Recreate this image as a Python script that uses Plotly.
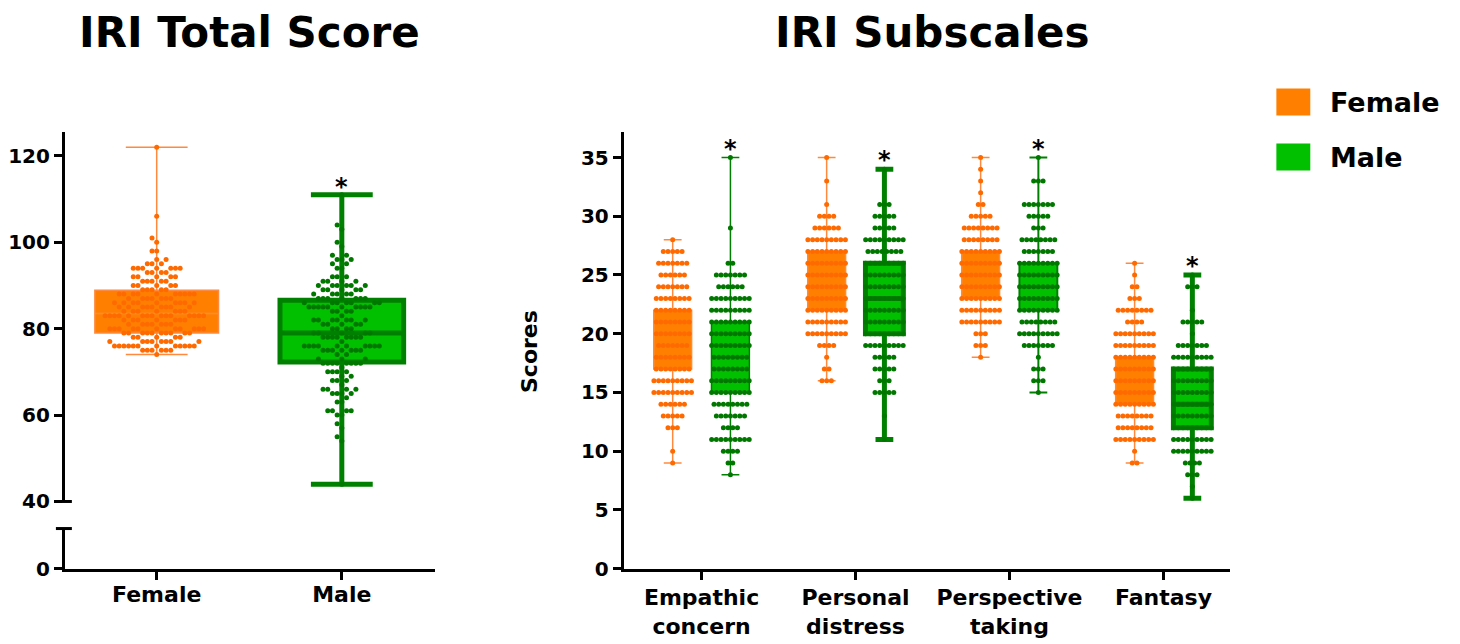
import plotly.graph_objects as go

# page = figure + 8px body margin; the photo compresses the page height slightly,
# so vertical page positions are pre-scaled by KY.
PAGE_M = 8
KY = 644 / 658
W = 1460 - 2 * PAGE_M
H = 658 - 2 * PAGE_M

# ---------------- data ----------------
# IRI total score: box statistics
total_groups = ["Female", "Male"]
total_min = [74, 44]
total_q1 = [79.0, 72.3]
total_med = [83.5, 79.0]
total_q3 = [88.9, 86.6]
total_max = [122, 111]

# IRI total score: individual scores (value, number of participants)
female_total_vals = [122, 106, 101, 100, 98, 96, 95, 94, 93, 92, 91, 90, 89, 88, 87, 86, 85,
                     84, 83, 82, 81, 80, 79, 78, 77, 76, 75, 74]
female_total_cnts = [1, 1, 1, 1, 2, 2, 3, 7, 4, 5, 5, 5, 5, 10, 7, 9, 9,
                     7, 15, 7, 7, 11, 10, 5, 8, 12, 6, 1]
male_total_vals = [111, 104, 103, 100, 99, 97, 96, 95, 94, 92, 91, 90, 89, 88, 87, 86, 85, 84,
                   83, 82, 81, 80, 79, 78, 77, 76, 75, 74, 73, 72, 71, 70, 69, 68, 67, 66,
                   65, 64, 63, 61, 60, 58, 57, 55, 54, 44]
male_total_cnts = [1, 1, 1, 1, 1, 2, 3, 2, 2, 3, 4, 6, 5, 5, 7, 7, 10, 4,
                   1, 7, 5, 4, 5, 8, 1, 10, 7, 2, 3, 8, 1, 4, 2, 3, 1, 4,
                   4, 1, 2, 4, 2, 1, 1, 1, 1, 1]

# IRI subscales
subscales = ["Empathic<br>concern", "Personal<br>distress", "Perspective<br>taking", "Fantasy"]
sub_f_min = [9, 16, 18, 9]
sub_f_q1 = [17, 22, 23, 14]
sub_f_med = [20, 24, 25, 16]
sub_f_q3 = [22, 27, 27, 18]
sub_f_max = [28, 35, 35, 26]
sub_m_min = [8, 11, 15, 6]
sub_m_q1 = [15, 20, 22, 12]
sub_m_med = [18, 23, 24, 14]
sub_m_q3 = [21, 26, 26, 17]
sub_m_max = [35, 34, 35, 25]

ec_f_vals = [28, 27, 26, 25, 24, 23, 22, 21, 20, 19, 18, 17, 16, 15, 14, 13, 12, 10, 9]
ec_f_cnts = [1, 5, 7, 6, 7, 8, 8, 8, 8, 7, 8, 8, 9, 9, 6, 5, 3, 1, 1]
ec_m_vals = [35, 29, 26, 25, 24, 23, 22, 21, 20, 19, 18, 17, 16, 15, 14, 13, 12, 11, 10, 9, 8]
ec_m_cnts = [1, 1, 2, 7, 6, 9, 9, 9, 9, 9, 8, 8, 9, 9, 8, 7, 4, 9, 4, 2, 1]
pd_f_vals = [35, 33, 31, 30, 29, 28, 27, 26, 25, 24, 23, 22, 21, 20, 19, 18, 17, 16]
pd_f_cnts = [1, 1, 1, 4, 6, 9, 9, 9, 9, 9, 9, 9, 9, 9, 4, 1, 2, 3]
pd_m_vals = [34, 31, 30, 29, 28, 27, 26, 25, 24, 23, 22, 21, 20, 19, 18, 17, 16, 15, 13, 11]
pd_m_cnts = [1, 3, 5, 5, 9, 8, 9, 9, 9, 9, 9, 9, 9, 9, 5, 5, 3, 5, 1, 1]
pt_f_vals = [35, 34, 33, 32, 31, 30, 29, 28, 27, 26, 25, 24, 23, 22, 21, 20, 19, 18]
pt_f_cnts = [1, 1, 1, 1, 2, 5, 8, 8, 9, 9, 9, 9, 9, 9, 9, 3, 3, 1]
pt_m_vals = [35, 33, 31, 30, 29, 28, 27, 26, 25, 24, 23, 22, 21, 20, 19, 18, 17, 16, 15]
pt_m_cnts = [1, 3, 7, 5, 3, 8, 7, 9, 9, 9, 9, 9, 8, 9, 7, 1, 3, 3, 1]
fs_f_vals = [26, 25, 24, 23, 22, 21, 20, 19, 18, 17, 16, 15, 14, 13, 12, 11, 10, 9]
fs_f_cnts = [1, 1, 2, 3, 8, 4, 9, 9, 9, 9, 9, 9, 9, 8, 8, 9, 1, 2]
fs_m_vals = [25, 24, 22, 21, 20, 19, 18, 17, 16, 15, 14, 13, 12, 11, 10, 9, 8, 7, 6]
fs_m_cnts = [1, 3, 1, 5, 1, 7, 9, 9, 9, 9, 9, 9, 9, 9, 9, 4, 3, 1, 1]

sub_f_points = [(ec_f_vals, ec_f_cnts), (pd_f_vals, pd_f_cnts), (pt_f_vals, pt_f_cnts), (fs_f_vals, fs_f_cnts)]
sub_m_points = [(ec_m_vals, ec_m_cnts), (pd_m_vals, pd_m_cnts), (pt_m_vals, pt_m_cnts), (fs_m_vals, fs_m_cnts)]

# ---------------- styles ----------------
F_FILL, F_LINE, F_DOT = "#FF8000", "#FF8A3D", "#FF6A00"
M_FILL, M_LINE, M_DOT = "#00C000", "#008000", "#007800"
BOLD = "DejaVu Sans"
sub_f_lw = [1.5, 1.5, 1.5, 1.5]
sub_m_lw = [1.5, 5, 2, 5]

# pixel geometry of the panels (target picture pixels)
L_X0, L_X1 = 62, 433
L_YU0, L_YU1 = 132, 500
L_YL0, L_YL1 = 527, 567
R_X0, R_X1 = 622, 1230
R_Y0, R_Y1 = 132, 567


def fx(px):
    return (px - PAGE_M) / W


def fy(py):
    return 1 - (py / KY - PAGE_M) / H


L_XRANGE = [-0.496, 1.504]
L_YRANGE = [40, 125.4]
R_XRANGE = [0.4945, 4.435]
R_YRANGE = [0, 37.13]
OFF = 0.1875

PITCH = 4.7  # px between neighbouring dots


def px_per_unit(rng, p0, p1):
    return (p1 - p0) / (rng[1] - rng[0])


LX_PPU = px_per_unit(L_XRANGE, L_X0, L_X1)
LY_PPU = px_per_unit(L_YRANGE, L_YU0, L_YU1)
RX_PPU = px_per_unit(R_XRANGE, R_X0, R_X1)


def swarm(vals, cnts, center, x_ppu, y_ppu):
    """Deterministic beeswarm: dots closer than one pitch vertically may not share columns."""
    half = PITCH / 2.0
    cands = [0.0]
    for k in range(1, 400):
        cands += [-k * half, k * half]
    placed = []
    xs, ys = [], []
    for v, n in sorted(zip(vals, cnts)):
        for _ in range(n):
            for c in cands:
                ok = True
                for pv, pc in placed:
                    if abs(pv - v) * y_ppu < PITCH - 1e-6 and abs(pc - c) < PITCH - 1e-6:
                        ok = False
                        break
                if ok:
                    placed.append((v, c))
                    xs.append(center + c / x_ppu)
                    ys.append(v)
                    break
    return xs, ys


def rows(vals, cnts, center, x_ppu):
    xs, ys = [], []
    for v, n in zip(vals, cnts):
        for i in range(n):
            xs.append(center + (i - (n - 1) / 2.0) * PITCH / x_ppu)
            ys.append(v)
    return xs, ys


fig = go.Figure()

# ---------------- left panel ----------------
for i, (fill, line, lw, dot, vals, cnts) in enumerate([
        (F_FILL, F_LINE, 1.5, F_DOT, female_total_vals, female_total_cnts),
        (M_FILL, M_LINE, 5, M_DOT, male_total_vals, male_total_cnts)]):
    fig.add_trace(go.Box(
        x=[i], q1=[total_q1[i]], median=[total_med[i]], q3=[total_q3[i]],
        lowerfence=[total_min[i]], upperfence=[total_max[i]],
        width=0.668, whiskerwidth=0.5, fillcolor=fill,
        line=dict(color=line, width=lw), boxpoints=False,
        xaxis="x", yaxis="y", showlegend=False, hoverinfo="skip"))
    xs, ys = swarm(vals, cnts, i, LX_PPU, LY_PPU)
    fig.add_trace(go.Scatter(
        x=xs, y=ys, mode="markers", xaxis="x", yaxis="y",
        marker=dict(size=5, color=dot, line=dict(width=0)),
        showlegend=False, hoverinfo="skip"))

# lower (broken) segment of left axis
fig.add_trace(go.Scatter(x=[None], y=[None], xaxis="x", yaxis="y2",
                         showlegend=False, hoverinfo="skip"))

# ---------------- right panel ----------------
for g in range(4):
    pos = g + 1
    for sign, fill, line, lw, dot, stats, pts in [
            (-1, F_FILL, F_LINE, sub_f_lw[g], F_DOT,
             (sub_f_min, sub_f_q1, sub_f_med, sub_f_q3, sub_f_max), sub_f_points[g]),
            (1, M_FILL, M_LINE, sub_m_lw[g], M_DOT,
             (sub_m_min, sub_m_q1, sub_m_med, sub_m_q3, sub_m_max), sub_m_points[g])]:
        xc = pos + sign * OFF
        mn, q1, md, q3, mx = (s[g] for s in stats)
        fig.add_trace(go.Box(
            x=[xc], q1=[q1], median=[md], q3=[q3], lowerfence=[mn], upperfence=[mx],
            width=0.246, whiskerwidth=0.47, fillcolor=fill,
            line=dict(color=line, width=lw), boxpoints=False,
            xaxis="x2", yaxis="y3", showlegend=False, hoverinfo="skip"))
        xs, ys = rows(pts[0], pts[1], xc, RX_PPU)
        fig.add_trace(go.Scatter(
            x=xs, y=ys, mode="markers", xaxis="x2", yaxis="y3",
            marker=dict(size=5, color=dot, line=dict(width=0)),
            showlegend=False, hoverinfo="skip"))

# ---------------- axes ----------------
axis_common = dict(showline=True, linewidth=3, linecolor="black", ticks="outside",
                   ticklen=8, tickwidth=3, tickcolor="black", showgrid=False,
                   zeroline=False, fixedrange=True)
yfont = dict(family=BOLD, size=20, color="black", weight="bold")
xfont = dict(family=BOLD, size=22, color="black", weight="bold")

fig.update_layout(
    width=W, height=H, margin=dict(l=0, r=0, t=0, b=0),
    paper_bgcolor="white", plot_bgcolor="white", showlegend=False,
    xaxis=dict(domain=[fx(L_X0), fx(L_X1)], range=L_XRANGE, anchor="y2",
               tickvals=[0, 1], ticktext=total_groups, tickfont=xfont,
               ticklabelstandoff=-4, **axis_common),
    yaxis=dict(domain=[fy(L_YU1), fy(L_YU0)], range=L_YRANGE, anchor="x",
               tickvals=[40, 60, 80, 100, 120], tickfont=yfont, **axis_common),
    yaxis2=dict(domain=[fy(L_YL1), fy(L_YL0)], range=[0, (L_YL1 - L_YL0) / LY_PPU],
                anchor="x", tickvals=[0], tickfont=yfont, **axis_common),
    xaxis2=dict(domain=[fx(R_X0), fx(R_X1)], range=R_XRANGE, anchor="y3",
                tickvals=[1, 2, 3, 4], ticktext=subscales, tickfont=xfont,
                ticklabelstandoff=-1, **axis_common),
    yaxis3=dict(domain=[fy(R_Y1), fy(R_Y0)], range=R_YRANGE, anchor="x2",
                tickvals=[0, 5, 10, 15, 20, 25, 30, 35], tickfont=yfont, **axis_common),
)

# axis break marks
for yb in (L_YU1, L_YL0):
    fig.add_shape(type="line", xref="paper", yref="paper",
                  x0=fx(53), x1=fx(69), y0=fy(yb), y1=fy(yb),
                  line=dict(color="black", width=3))

# titles
fig.add_annotation(text="IRI Total Score", xref="paper", yref="paper",
                   x=fx(247), y=fy(32), showarrow=False, xanchor="center", yanchor="middle",
                   font=dict(family=BOLD, size=42, color="black", weight="bold"))
fig.add_annotation(text="IRI Subscales", xref="paper", yref="paper",
                   x=fx(931), y=fy(32), showarrow=False, xanchor="center", yanchor="middle",
                   font=dict(family=BOLD, size=42, color="black", weight="bold"))
fig.add_annotation(text="Scores", xref="paper", yref="paper", textangle=-90,
                   x=fx(527), y=fy(350), showarrow=False, xanchor="center", yanchor="middle",
                   font=dict(family=BOLD, size=22, color="black", weight="bold"))

# significance asterisks
fig.add_annotation(text="*", xref="x", yref="y", x=1, y=total_max[1], yshift=-8,
                   showarrow=False, yanchor="bottom",
                   font=dict(family=BOLD, size=24, color="black", weight="bold"))
for g in range(4):
    fig.add_annotation(text="*", xref="x2", yref="y3", x=g + 1 + OFF, y=sub_m_max[g], yshift=-7,
                       showarrow=False, yanchor="bottom",
                       font=dict(family=BOLD, size=24, color="black", weight="bold"))

# legend
for name, col, ytop in [("Female", F_FILL, 88), ("Male", M_FILL, 143)]:
    fig.add_shape(type="rect", xref="paper", yref="paper",
                  x0=fx(1276), x1=fx(1310), y0=fy(ytop + 27), y1=fy(ytop),
                  fillcolor=col, line=dict(width=0))
    fig.add_annotation(text=name, xref="paper", yref="paper", x=fx(1328), y=fy(ytop + 14),
                       showarrow=False, xanchor="left", yanchor="middle",
                       font=dict(family=BOLD, size=27, color="black", weight="bold"))

fig.write_html("out.html", config={"displayModeBar": False})
